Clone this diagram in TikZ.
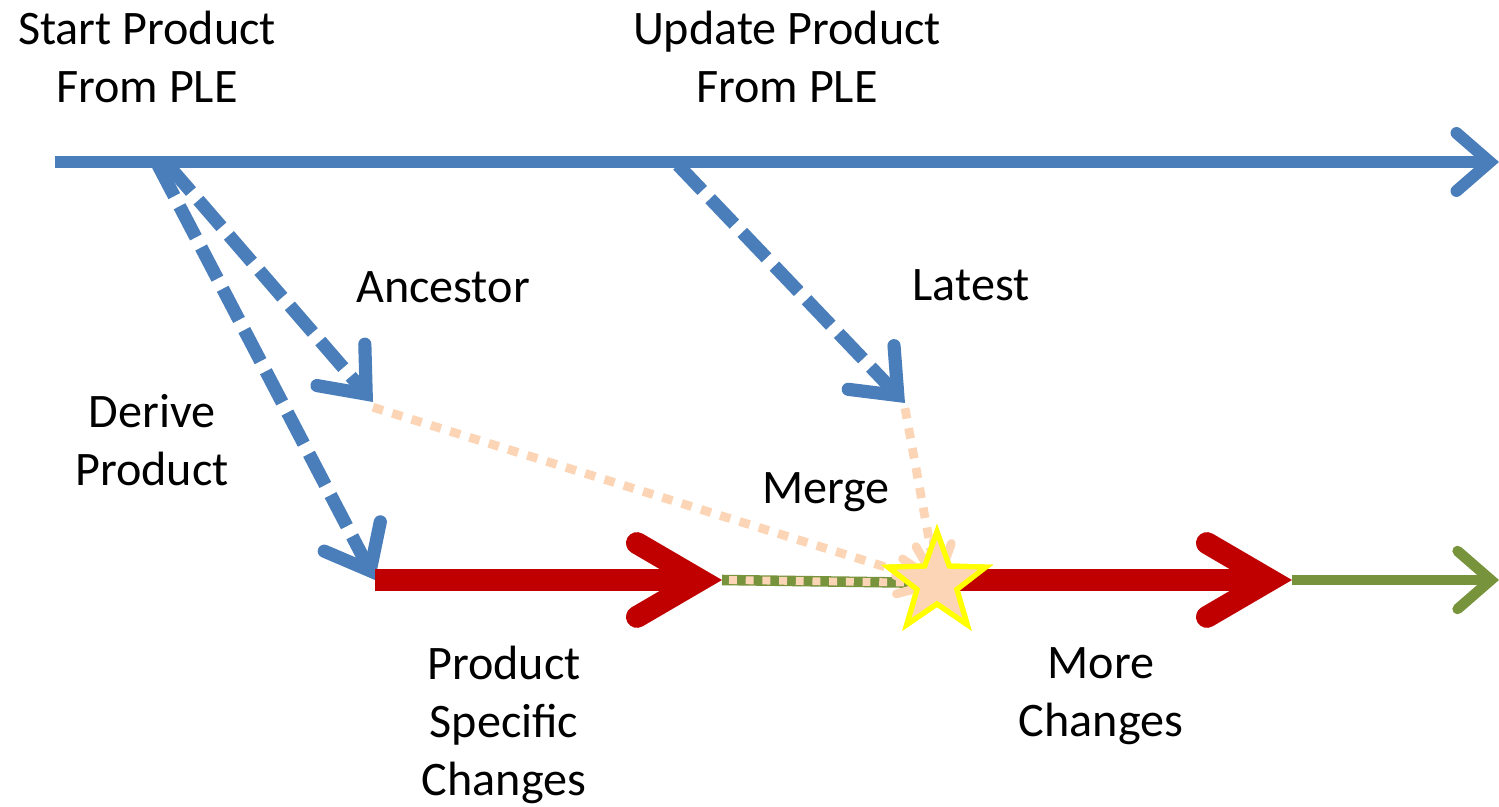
\documentclass[tikz,border=0pt]{standalone}
\usepackage{fontspec}
\setmainfont{Carlito}
\usetikzlibrary{arrows.meta,shapes.geometric}
\definecolor{pblue}{HTML}{4A7EBB}
\definecolor{pred}{HTML}{C00000}
\definecolor{pgreen}{HTML}{77933C}
\definecolor{ppeach}{HTML}{FBD5B5}
\definecolor{pyellow}{HTML}{FFFF00}
\begin{document}
\begin{tikzpicture}[x=0.02cm,y=-0.02cm,
  lbl/.style={font=\fontsize{27.4}{33}\selectfont, align=center, inner sep=0pt},
  bluetip/.style={-{Straight Barb[length=19pt,width=33pt,line cap=round,line join=miter]}},
  mainline/.style={pblue, line width=6.8pt, bluetip},
  dashblue/.style={pblue, line width=7.5pt, dash pattern=on 20pt off 6.5pt,
     -{Straight Barb[length=22pt,width=36pt,line cap=round,line join=miter]}},
  redline/.style={pred, line width=12.5pt,
     -{Straight Barb[length=36pt,width=42pt,line cap=round,line join=miter]}},
  greenline/.style={pgreen, line width=6pt},
  peachdot/.style={ppeach, line width=5pt, dash pattern=on 6pt off 5.5pt},
  peachsmall/.style={ppeach, line width=4.5pt, dash pattern=on 4.5pt off 5pt},
  starnode/.style={star, star points=5, star point ratio=2.45, minimum size=2.05cm,
     inner sep=0pt, fill=ppeach, draw=pyellow, line width=3pt},
]
\useasboundingbox (0,0) rectangle (1499,807);

% coordinates
\coordinate (mainS) at (55,162);
\coordinate (mainE) at (1499,162);
\coordinate (startP) at (158,165);
\coordinate (startA) at (168,165);
\coordinate (updP) at (678,165);
\coordinate (anc) at (373,402);
\coordinate (lat) at (905,403);
\coordinate (redS) at (375,580);
\coordinate (redE) at (722,580);
\coordinate (red2S) at (958,580);
\coordinate (red2E) at (1292,580);
\coordinate (grE) at (1499,580);
\node[starnode] (merge) at (937,583) {};

% top timeline
\draw[mainline] (mainS) -- (mainE);

% dashed blue arrows
\draw[dashblue] (startP) -- (redS);
\draw[dashblue] (startA) -- (anc);
\draw[dashblue] (updP) -- (lat);

% green connection between red segments
\draw[greenline] (redE) -- (merge.center);
\draw[peachsmall] ([xshift=4pt]redE) -- (merge.center);

% peach dotted merge inputs
\draw[peachdot] ([yshift=-3pt]anc) -- (merge.center);
\draw[peachdot] ([yshift=-3pt]lat) -- (merge.center);

% fan of peach marks at star
\foreach \a in {165,190,215,240,265,290}
  \draw[ppeach, line width=5pt, line cap=round] (merge.center) -- ++(\a:42);

% red and green
\draw[redline] (redS) -- (redE);
\draw[greenline, bluetip] (red2E) -- (grE);
\draw[redline] (red2S) -- (red2E);

\node[starnode] at (merge.center) {};

% labels
\node[lbl] (t1) at (147,57) {Start Product\\From PLE};
\node[lbl] (t2) at (787,57) {Update Product\\From PLE};
\node[lbl] (t3) at (443,287) {Ancestor};
\node[lbl] (t4) at (971,285) {Latest};
\node[lbl] (t5) at (152,440) {Derive\\Product};
\node[lbl] (t6) at (826,492) {Merge};
\node[lbl] (t7) at (504,725) {Product\\Specific\\Changes};
\node[lbl] (t8) at (1101,696) {More\\Changes};
\end{tikzpicture}
\end{document}
